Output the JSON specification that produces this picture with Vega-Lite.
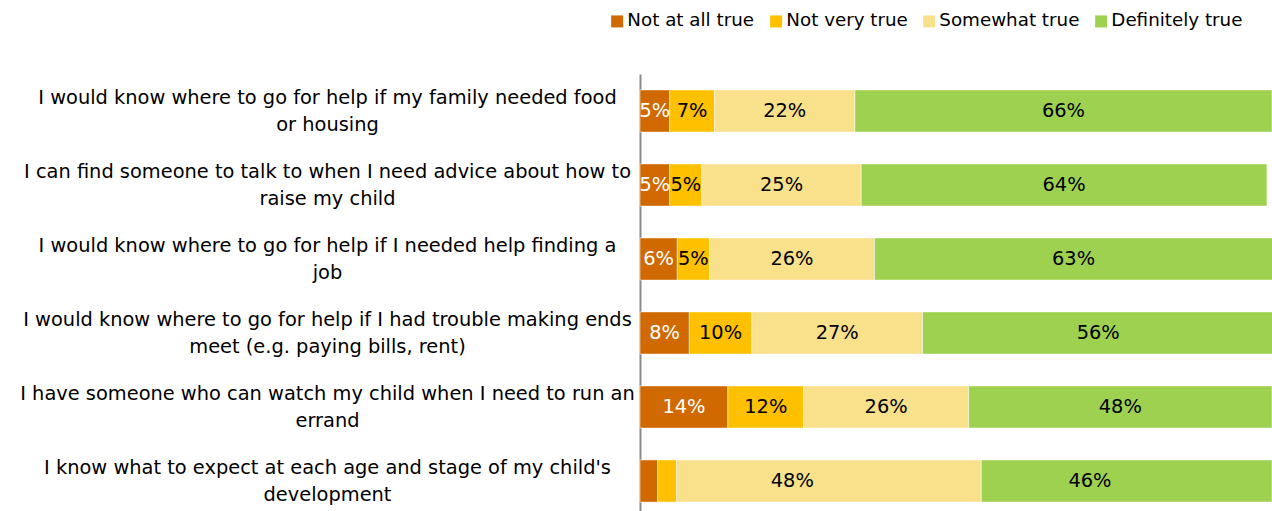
{
  "$schema": "https://vega.github.io/schema/vega-lite/v6.json",
  "width": 632,
  "height": 444,
  "autosize": {"type": "none"},
  "padding": {"left": 640, "top": 74, "right": 0, "bottom": 0},
  "background": "white",
  "config": {"view": {"stroke": null}, "font": "DejaVu Sans"},
  "data": {
    "values": [
      {"item": "I would know where to go for help if my family needed food or housing", "response": "Not at all true", "rank": 1, "value": 0.047},
      {"item": "I would know where to go for help if my family needed food or housing", "response": "Not very true", "rank": 2, "value": 0.071},
      {"item": "I would know where to go for help if my family needed food or housing", "response": "Somewhat true", "rank": 3, "value": 0.222},
      {"item": "I would know where to go for help if my family needed food or housing", "response": "Definitely true", "rank": 4, "value": 0.66},
      {"item": "I can find someone to talk to when I need advice about how to raise my child", "response": "Not at all true", "rank": 1, "value": 0.047},
      {"item": "I can find someone to talk to when I need advice about how to raise my child", "response": "Not very true", "rank": 2, "value": 0.051},
      {"item": "I can find someone to talk to when I need advice about how to raise my child", "response": "Somewhat true", "rank": 3, "value": 0.252},
      {"item": "I can find someone to talk to when I need advice about how to raise my child", "response": "Definitely true", "rank": 4, "value": 0.642},
      {"item": "I would know where to go for help if I needed help finding a job", "response": "Not at all true", "rank": 1, "value": 0.059},
      {"item": "I would know where to go for help if I needed help finding a job", "response": "Not very true", "rank": 2, "value": 0.051},
      {"item": "I would know where to go for help if I needed help finding a job", "response": "Somewhat true", "rank": 3, "value": 0.261},
      {"item": "I would know where to go for help if I needed help finding a job", "response": "Definitely true", "rank": 4, "value": 0.63},
      {"item": "I would know where to go for help if I had trouble making ends meet (e.g. paying bills, rent)", "response": "Not at all true", "rank": 1, "value": 0.078},
      {"item": "I would know where to go for help if I had trouble making ends meet (e.g. paying bills, rent)", "response": "Not very true", "rank": 2, "value": 0.099},
      {"item": "I would know where to go for help if I had trouble making ends meet (e.g. paying bills, rent)", "response": "Somewhat true", "rank": 3, "value": 0.27},
      {"item": "I would know where to go for help if I had trouble making ends meet (e.g. paying bills, rent)", "response": "Definitely true", "rank": 4, "value": 0.556},
      {"item": "I have someone who can watch my child when I need to run an errand", "response": "Not at all true", "rank": 1, "value": 0.139},
      {"item": "I have someone who can watch my child when I need to run an errand", "response": "Not very true", "rank": 2, "value": 0.12},
      {"item": "I have someone who can watch my child when I need to run an errand", "response": "Somewhat true", "rank": 3, "value": 0.261},
      {"item": "I have someone who can watch my child when I need to run an errand", "response": "Definitely true", "rank": 4, "value": 0.48},
      {"item": "I know what to expect at each age and stage of my child's development", "response": "Not at all true", "rank": 1, "value": 0.028},
      {"item": "I know what to expect at each age and stage of my child's development", "response": "Not very true", "rank": 2, "value": 0.03},
      {"item": "I know what to expect at each age and stage of my child's development", "response": "Somewhat true", "rank": 3, "value": 0.482},
      {"item": "I know what to expect at each age and stage of my child's development", "response": "Definitely true", "rank": 4, "value": 0.46}
    ]
  },
  "encoding": {
    "y": {
      "field": "item",
      "type": "nominal",
      "sort": null,
      "scale": {"paddingInner": 0.43, "paddingOuter": 0.215},
      "axis": {
        "title": null,
        "ticks": false,
        "domainColor": "#8c8c8c",
        "domainWidth": 2,
        "labelFontSize": 19.4,
        "labelColor": "#000000",
        "labelAlign": "center",
        "labelBaseline": "middle",
        "labelPadding": 313,
        "labelOffset": -13.5,
        "labelLineHeight": 27,
        "labelLimit": 700,
        "labelExpr": "split(replace(replace(replace(replace(replace(replace(datum.label,'food ','food|'),'how to ','how to|'),'finding a ','finding a|'),'ends ','ends|'),'run an ','run an|'),'child\\'s ','child\\'s|'),'|')"
      }
    },
    "x": {
      "field": "value",
      "type": "quantitative",
      "stack": "zero",
      "scale": {"domain": [0, 1], "nice": false},
      "axis": null
    },
    "order": {"field": "rank", "type": "quantitative", "sort": "ascending"}
  },
  "layer": [
    {
      "mark": {"type": "bar", "stroke": "white", "strokeWidth": 0.5},
      "encoding": {
        "color": {
          "field": "response",
          "type": "nominal",
          "sort": ["Not at all true", "Not very true", "Somewhat true", "Definitely true"],
          "scale": {
            "domain": ["Not at all true", "Not very true", "Somewhat true", "Definitely true"],
            "range": ["#d06a00", "#ffc000", "#f9e08a", "#9fd150"]
          },
          "legend": {
            "title": null,
            "orient": "none",
            "direction": "horizontal",
            "legendX": -32,
            "legendY": -62,
            "symbolType": "square",
            "symbolSize": 144,
            "symbolStrokeWidth": 0,
            "labelFontSize": 18.3,
            "labelColor": "#000000",
            "labelOffset": 1,
            "columnPadding": 12,
            "labelLimit": 300
          }
        }
      }
    },
    {
      "transform": [{"filter": "datum.value >= 0.04"}],
      "mark": {"type": "text", "fontSize": 19.4, "baseline": "middle", "align": "center"},
      "encoding": {
        "x": {"field": "value", "type": "quantitative", "stack": "zero", "bandPosition": 0.5},
        "detail": {"field": "response", "type": "nominal"},
        "text": {"field": "value", "type": "quantitative", "format": ".0%"},
        "color": {
          "condition": {"test": "datum.response == 'Not at all true'", "value": "white"},
          "value": "black"
        }
      }
    }
  ]
}
